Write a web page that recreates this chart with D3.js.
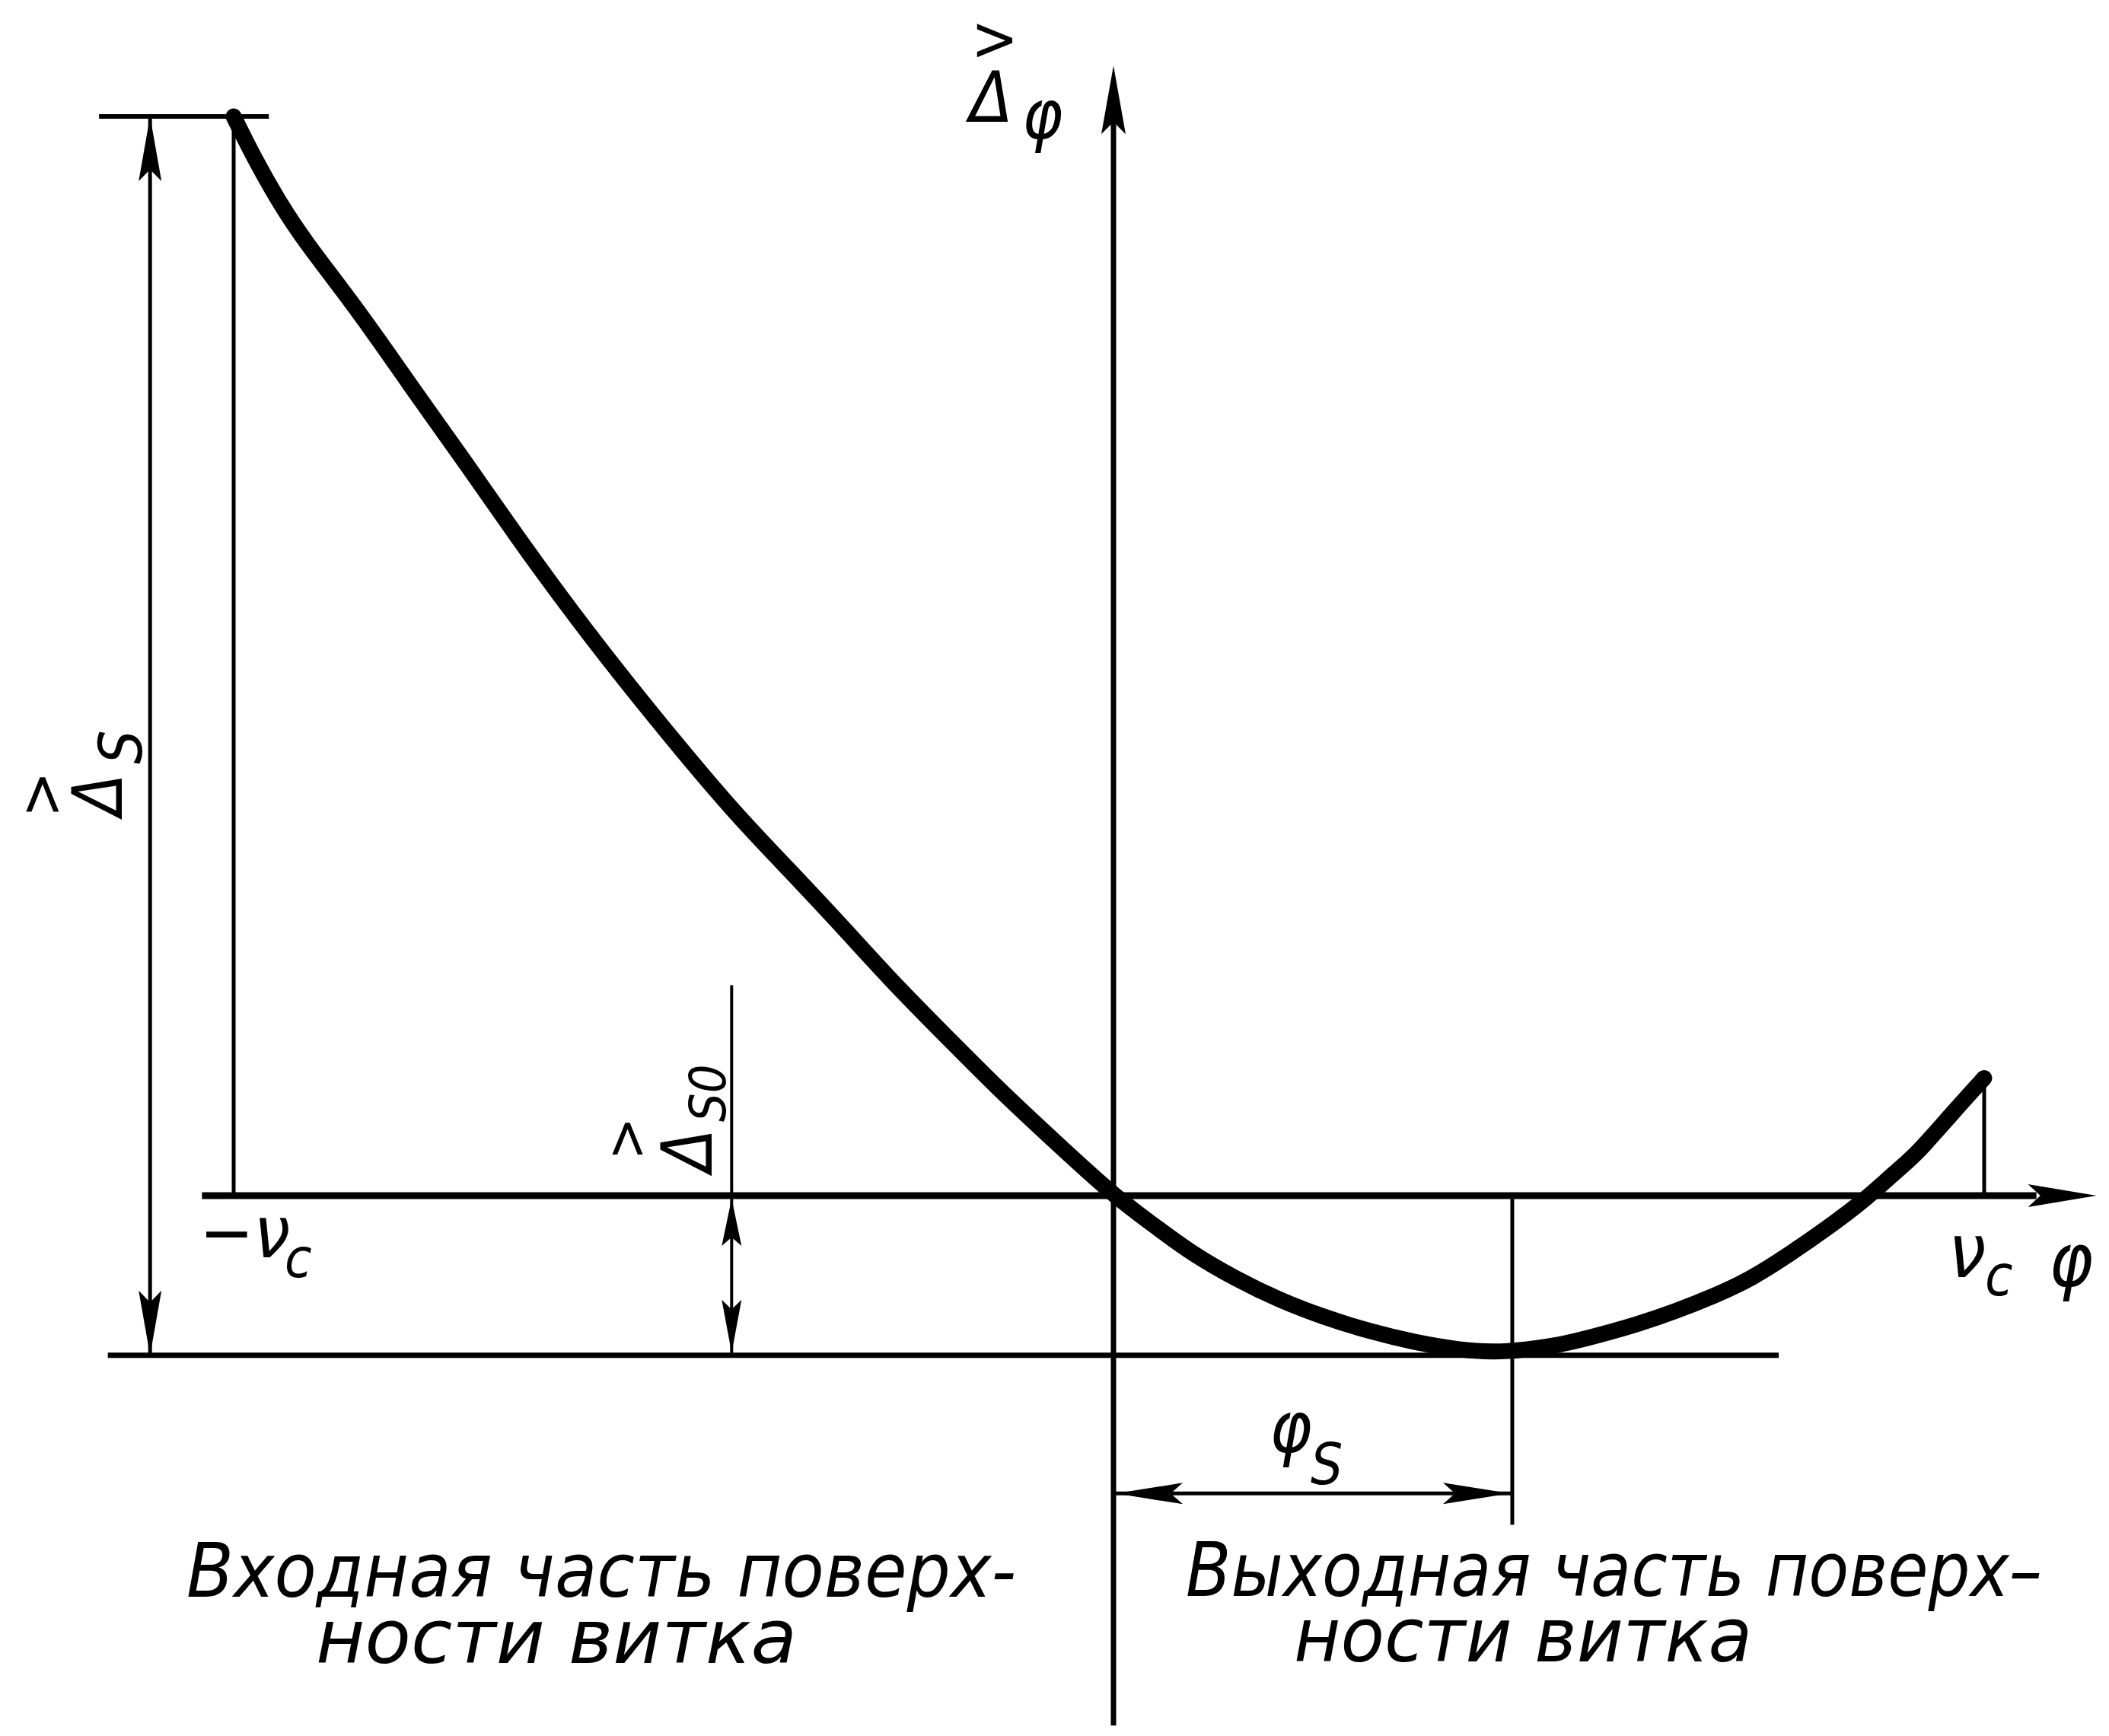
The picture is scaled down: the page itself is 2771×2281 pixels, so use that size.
<!DOCTYPE html>
<html>
<head>
<meta charset="utf-8">
<script src="https://cdn.jsdelivr.net/npm/d3@7"></script>
<style>
  html, body { margin: 0; padding: 0; background: #fff; }
  svg { display: block; }
  text { font-family: "DejaVu Sans Condensed", "DejaVu Sans", sans-serif; font-stretch: condensed; font-style: oblique; fill: #000; }
</style>
</head>
<body>
<script>
// ---- data (φ in units of ν_c, Δφ in units of Δs) ----
const phi   = [-1.000,-0.977,-0.948,-0.919,-0.858,-0.797,-0.737,-0.675,-0.614,-0.553,-0.492,-0.431,-0.370,-0.309,-0.248,-0.187,-0.126,-0.065,0,0.054,0.089,0.140,0.191,0.243,0.295,0.346,0.397,0.437,0.472,0.516,0.559,0.603,0.646,0.690,0.733,0.777,0.820,0.863,0.898,0.922,0.965,1.0];
const delta = [1.000,0.962,0.920,0.884,0.820,0.748,0.680,0.607,0.539,0.475,0.414,0.355,0.303,0.250,0.195,0.145,0.095,0.049,0,-0.032,-0.053,-0.077,-0.097,-0.113,-0.126,-0.136,-0.143,-0.145,-0.143,-0.138,-0.129,-0.119,-0.107,-0.093,-0.077,-0.054,-0.030,-0.004,0.022,0.038,0.078,0.109];
const deltaS   = 1.0;     // Δs (value at -ν_c)
const deltaS0  = -0.148;  // level of the minimum
const phiS     = 0.458;   // φ_s
const nuC      = 1.0;     // ν_c
const deltaEnd = 0.109;   // value at +ν_c
const captionLeft  = ["Входная часть поверх-", "ности витка"];
const captionRight = ["Выходная часть поверх–", "ности витка"];

const W = 2771, H = 2281;
const svg = d3.select("body").append("svg").attr("width", W).attr("height", H);
svg.append("rect").attr("width", W).attr("height", H).attr("fill", "#fff");

const x = d3.scaleLinear().domain([-1, 0, 1]).range([307, 1463, 2607]);
const y = d3.scaleLinear().domain([0, 1]).range([1571, 153]);

function line(x1, y1, x2, y2, w) {
  svg.append("line").attr("x1", x1).attr("y1", y1).attr("x2", x2).attr("y2", y2)
    .attr("stroke", "#000").attr("stroke-width", w).attr("stroke-linecap", "butt");
}
function arrow(tx, ty, dx, dy, len, hw) {
  const bx = tx - dx * len, by = ty - dy * len;
  const px = -dy, py = dx;
  const nx = tx - dx * len * 0.82, ny = ty - dy * len * 0.82;
  svg.append("path")
    .attr("d", `M${tx},${ty} L${bx + px * hw},${by + py * hw} L${nx},${ny} L${bx - px * hw},${by - py * hw} Z`)
    .attr("fill", "#000");
}

// main axes
line(x(-1.036), y(0), x(1.06), y(0), 9);
arrow(x(1.129), y(0), 1, 0, 90, 15);
line(x(0), y(1.047) + 70, x(0), y(-0.491), 7);
arrow(x(0), y(1.047), 0, -1, 90, 16);

// Δs dimension
const xDs = x(-1.095);
line(x(-1.153), y(deltaS), x(-0.960), y(deltaS), 6);
line(xDs, y(deltaS), xDs, y(deltaS0), 5);
arrow(xDs, y(deltaS), 0, -1, 85, 15);
arrow(xDs, y(deltaS0), 0, 1, 85, 15);
line(x(-nuC), y(deltaS), x(-nuC), y(0), 5);

// lower reference line (Δs0 level)
line(x(-1.143), y(deltaS0), x(0.764), y(deltaS0), 7);

// Δs0 dimension
const xDs0 = x(-0.434);
line(xDs0, y(0.195), xDs0, y(deltaS0), 4);
arrow(xDs0, y(0) + 4, 0, -1, 62, 13);
arrow(xDs0, y(deltaS0) - 3, 0, 1, 70, 13);

// φs dimension
line(x(phiS), y(0), x(phiS), y(-0.305), 5);
const yPs = y(-0.276);
line(x(0), yPs, x(phiS), yPs, 5);
arrow(x(0) + 3, yPs, -1, 0, 88, 14);
arrow(x(phiS) - 3, yPs, 1, 0, 88, 14);

// right end vertical
line(x(nuC), y(deltaEnd), x(nuC), y(0), 5);

// curve
const pts = phi.map((p, i) => [x(p), y(delta[i])]);
svg.append("path").datum(pts)
  .attr("d", d3.line().curve(d3.curveBasis))
  .attr("fill", "none").attr("stroke", "#000").attr("stroke-width", 21)
  .attr("stroke-linecap", "round").attr("stroke-linejoin", "round");

// ---- labels: one <text> per label, parts as tspans ----
// parts: [string, X, Y, fontSize, upright?]  (screen coords of baseline start)
function label(parts, rotated) {
  const t = svg.append("text");
  if (rotated) t.attr("transform", "rotate(-90)");
  parts.forEach(([s, X, Y, fs, upright]) => {
    const lx = rotated ? -Y : X, ly = rotated ? X : Y;
    const sp = t.append("tspan").attr("x", lx).attr("y", ly).attr("font-size", fs).text(s);
    if (upright) sp.style("font-style", "normal");
  });
  return t;
}

// top Δφ with hat
label([[">", 1276, 79, 82, true], ["Δ", 1274, 160, 92], ["φ", 1343, 182, 90]]);
// rotated Δs
label([[">", 81, 1074, 80, true], ["Δ", 160, 1072, 90], ["S", 186, 1004, 78]], true);
// rotated Δs0
label([[">", 848, 1524, 74, true], ["Δ", 935, 1540, 92], ["S0", 953, 1474, 66]], true);
// -ν_c
label([["−ν", 262, 1652, 95], ["c", 374, 1678, 72]]);
// ν_c φ
label([["ν", 2560, 1678, 98], ["c", 2608, 1702, 74], ["φ", 2692, 1690, 98]]);
// φs
label([["φ", 1668, 1908, 94], ["S", 1722, 1950, 74]]);

// captions (two lines in one text each)
function caption(lines, xs, ys, lens) {
  const t = svg.append("text").attr("font-size", 98);
  lines.forEach((s, i) => {
    t.append("tspan").attr("x", xs[i]).attr("y", ys[i])
      .attr("textLength", lens[i]).attr("lengthAdjust", "spacingAndGlyphs").text(s);
  });
}
caption(captionLeft, [245, 415], [2098, 2185], [1090, 632]);
caption(captionRight, [1558, 1700], [2097, 2183], [1125, 602]);
</script>
</body>
</html>
